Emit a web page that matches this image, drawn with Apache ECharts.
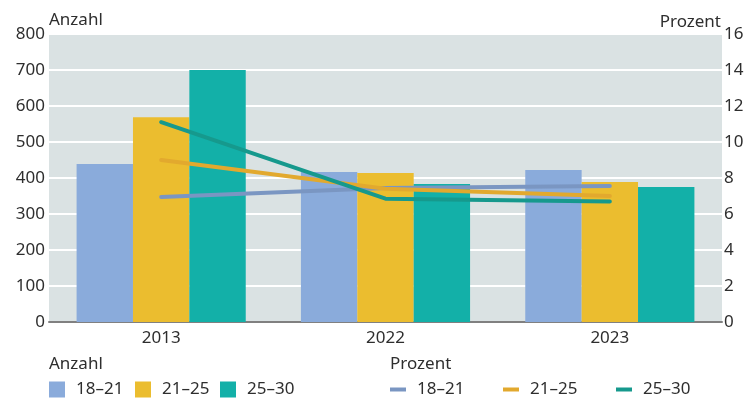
<!DOCTYPE html>
<html><head><meta charset="utf-8">
<script src="https://cdn.jsdelivr.net/npm/echarts@6/dist/echarts.min.js"></script>
<style>html,body{margin:0;padding:0;background:#fff}#c{width:753px;height:409px}</style>
</head><body><div id="c"></div>
<script>
const categories = ['2013', '2022', '2023'];
const groups = ['18–21', '21–25', '25–30'];
const anzahl18 = [439, 417, 422];
const anzahl21 = [569, 414, 389];
const anzahl25 = [700, 383, 375];
const prozent18 = [6.95, 7.45, 7.55];
const prozent21 = [9.0, 7.4, 7.0];
const prozent25 = [11.1, 6.85, 6.7];
const leftTicks = [0, 800, 100];
const rightTicks = [0, 16, 2];

const barColors = ['#8aabdb', '#ebbd2f', '#13b0a8'];
const lineColors = ['#7a96c2', '#e2a92e', '#16998d'];
const font = 'Noto Sans';
const fs = 17;
const txt = '#2e2e2e';

const barData = [anzahl18, anzahl21, anzahl25];
const lineData = [prozent18, prozent21, prozent25];

const series = [];
groups.forEach((g, i) => {
  series.push({
    name: 'A ' + g, type: 'bar', data: barData[i], yAxisIndex: 0,
    barGap: '0%', barCategoryGap: '24.6%',
    itemStyle: { color: barColors[i] }
  });
});
groups.forEach((g, i) => {
  series.push({
    name: 'P ' + g, type: 'line', data: lineData[i], yAxisIndex: 1,
    symbol: 'none', z: 5,
    lineStyle: { color: lineColors[i], width: 4, cap: 'round', join: 'round' },
    itemStyle: { color: lineColors[i] }
  });
});

const legends = [];
const aX = [49, 135, 220];
const pX = [390, 503, 616];
groups.forEach((g, i) => {
  legends.push({
    data: [{ name: 'A ' + g, icon: 'rect' }], left: aX[i], top: 381,
    itemWidth: 16, itemHeight: 16, itemGap: 0, padding: 0,
    formatter: () => g,
    textStyle: { fontFamily: font, fontSize: fs, color: txt, padding: [0, 0, 0, 6] },
    selectedMode: false
  });
  legends.push({
    data: [{ name: 'P ' + g, icon: 'rect' }], left: pX[i], top: 381,
    itemWidth: 16, itemHeight: 4, itemGap: 0, padding: 0,
    formatter: () => g,
    textStyle: { fontFamily: font, fontSize: fs, color: txt, padding: [0, 0, 0, 6] },
    selectedMode: false
  });
});

const f = fs + 'px "Noto Sans"';
const chart = echarts.init(document.getElementById('c'), null, { renderer: 'canvas' });
chart.setOption({
  animation: false,
  backgroundColor: '#fff',
  textStyle: { fontFamily: font },
  grid: { left: 49, right: 31, top: 34, bottom: 87, show: true, backgroundColor: '#dae2e3', borderWidth: 0 },
  legend: legends,
  graphic: [
    { type: 'text', left: 49, top: 12, style: { text: 'Anzahl', font: f, fill: txt } },
    { type: 'text', right: 32, top: 14, style: { text: 'Prozent', font: f, fill: txt } },
    { type: 'text', left: 49, top: 356, style: { text: 'Anzahl', font: f, fill: txt } },
    { type: 'text', left: 390, top: 356, style: { text: 'Prozent', font: f, fill: txt } }
  ],
  xAxis: {
    type: 'category', data: categories,
    axisLine: { lineStyle: { color: '#808080', width: 2 } },
    axisTick: { show: false },
    axisLabel: { fontFamily: font, fontSize: fs, color: txt, margin: 8 }
  },
  yAxis: [
    {
      type: 'value', min: leftTicks[0], max: leftTicks[1], interval: leftTicks[2],
      axisLine: { show: false }, axisTick: { show: false },
      axisLabel: { fontFamily: font, fontSize: fs, color: txt, margin: 4 },
      splitLine: { lineStyle: { color: '#ffffff', width: 2 } }
    },
    {
      type: 'value', min: rightTicks[0], max: rightTicks[1], interval: rightTicks[2],
      axisLine: { show: false }, axisTick: { show: false },
      axisLabel: { fontFamily: font, fontSize: fs, color: txt, margin: 2 },
      splitLine: { show: false }
    }
  ],
  series: series
});
</script></body></html>
